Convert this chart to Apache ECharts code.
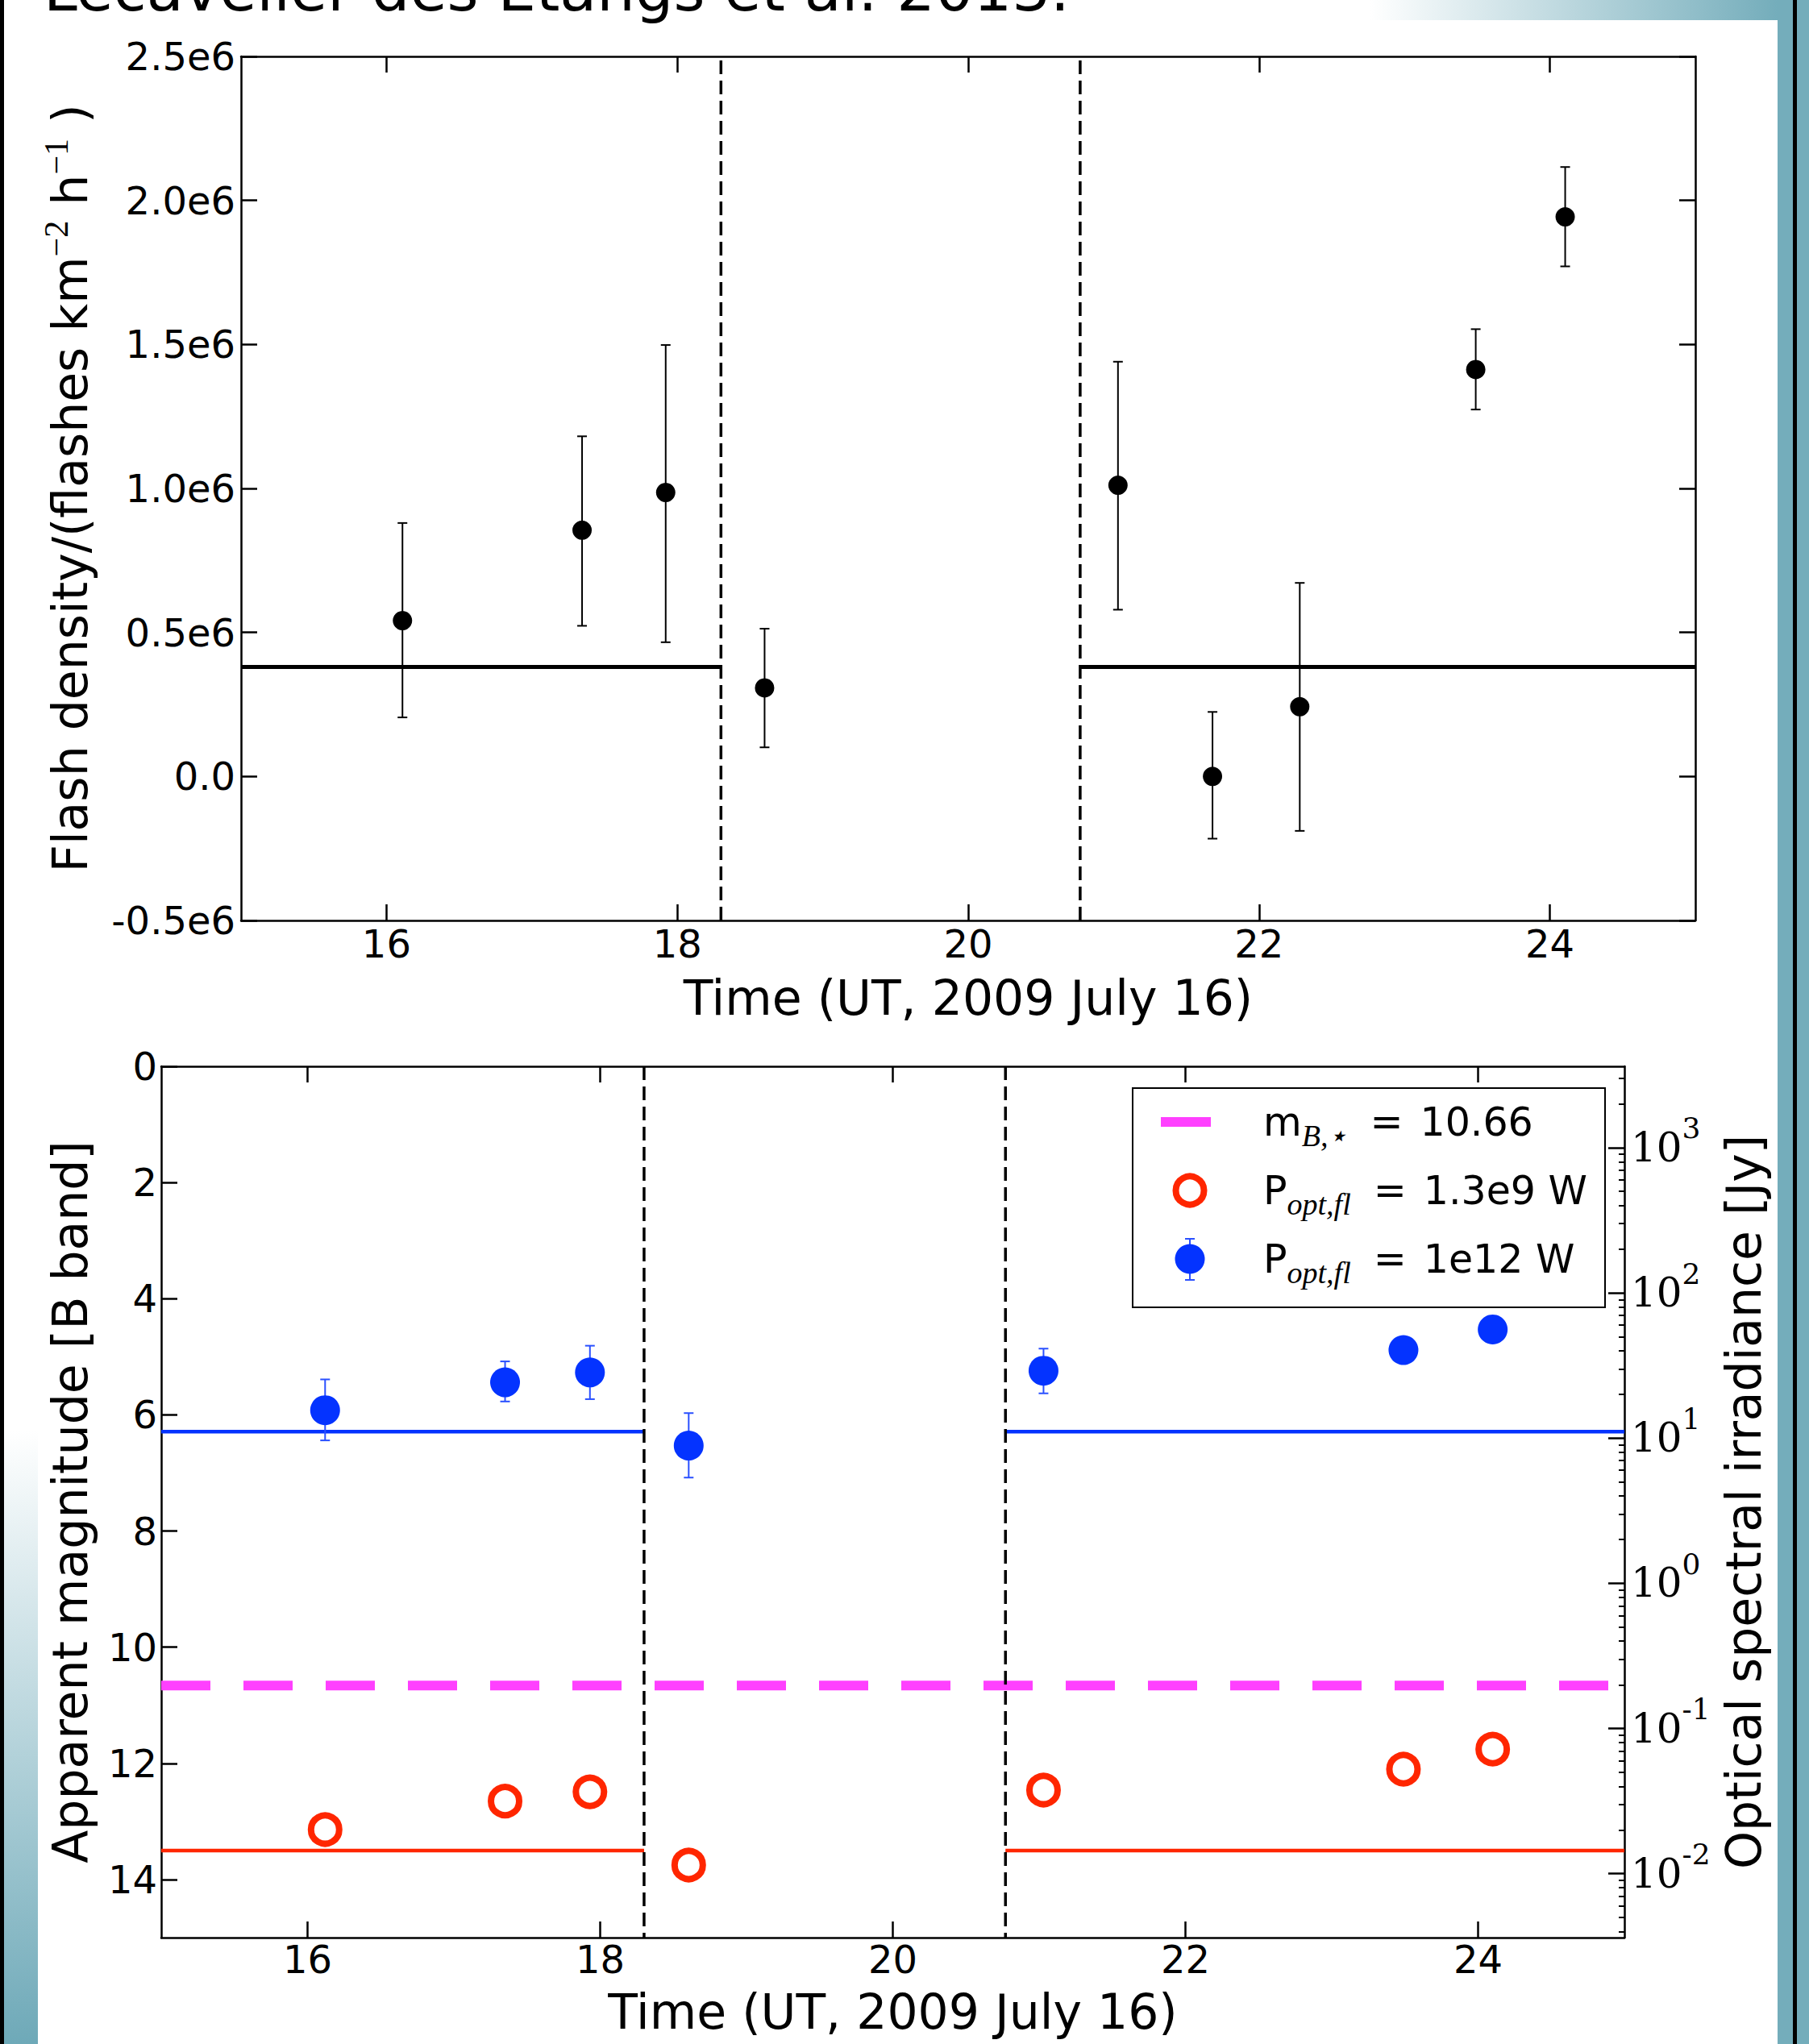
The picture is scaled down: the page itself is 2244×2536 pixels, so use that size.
<!DOCTYPE html>
<html>
<head>
<meta charset="utf-8">
<script src="https://cdn.jsdelivr.net/npm/echarts@6.0.0/dist/echarts.min.js"></script>
<style>
html,body{margin:0;padding:0;background:#fff;}
#c{width:2244px;height:2536px;}
</style>
</head>
<body>
<div id="c"></div>
<script>
// ---------------- data ----------------
const xMin = 15, xMax = 25;
const xTicks = [16, 18, 20, 22, 24];
const transitBounds = [18.30, 20.77];

// top panel: flash density
const densMin = -0.5e6, densMax = 2.5e6, densStep = 0.5e6;
const flashTime    = [16.11, 17.345, 17.92, 18.60, 21.03, 21.68, 22.28, 23.49, 24.105];
const flashDensity = [0.541e6, 0.855e6, 0.986e6, 0.3075e6, 1.011e6, 0.0, 0.242e6, 1.413e6, 1.943e6];
const flashLow     = [0.205e6, 0.523e6, 0.466e6, 0.101e6, 0.579e6, -0.216e6, -0.189e6, 1.274e6, 1.771e6];
const flashHigh    = [0.880e6, 1.181e6, 1.498e6, 0.513e6, 1.440e6, 0.224e6, 0.672e6, 1.553e6, 2.116e6];
const meanDensity  = 0.38e6;

// bottom panel: apparent magnitude
const magMin = 0, magMax = 15;
const magTicks = [0, 2, 4, 6, 8, 10, 12, 14];
const magTime   = [16.12, 17.35, 17.93, 18.605, 21.03, 23.49, 24.10];
const magBright = [5.92, 5.44, 5.27, 6.53, 5.24, 4.885, 4.53];      // P = 1e12 W
const magBrightUp   = [5.39, 5.08, 4.81, 5.97, 4.86, null, null];
const magBrightDown = [6.44, 5.77, 5.73, 7.08, 5.63, null, null];
const magFaint  = [13.14, 12.65, 12.49, 13.75, 12.46, 12.10, 11.755]; // P = 1.3e9 W
const levelBright = 6.29, levelFaint = 13.50, starMag = 10.66;

// right axis: optical spectral irradiance [Jy]
const fluxExponents = [3, 2, 1, 0, -1, -2];
const fluxZeroMag = 8.9;   // magnitude of 1 Jy on the right axis

// ---------------- styles ----------------
const BLACK = '#000', BLUE = '#0433ff', BLUE_ERR = '#2a50ff', RED = '#ff2600', MAGENTA = '#ff40ff', TEAL = '#74adbb';
const SANS = 'DejaVu Sans', SERIF = 'Liberation Serif', DSERIF = 'DejaVu Serif';

const fluxToMag = f => fluxZeroMag - 2.5 * Math.log10(f);
const fluxTickMags = fluxExponents.map(e => fluxToMag(Math.pow(10, e)));
const fluxMinorMags = [];
for (let e = -4; e <= 4; e++) {
  for (let k = 2; k <= 9; k++) {
    const m = fluxToMag(k * Math.pow(10, e));
    if (m >= magMin && m <= magMax) fluxMinorMags.push(m);
  }
}

function xAxis(grid, pos, showLabel, name, nameGap, margin) {
  return {
    type: 'value', gridIndex: grid, position: pos, min: xMin, max: xMax,
    axisLine: {show: true, onZero: false, lineStyle: {color: BLACK, width: 2.5}},
    axisTick: {show: true, inside: true, length: 20, customValues: xTicks, lineStyle: {color: BLACK, width: 2.5}},
    axisLabel: {show: showLabel, customValues: xTicks, margin: margin, color: BLACK, fontFamily: SANS, fontSize: 48},
    splitLine: {show: false},
    name: name, nameLocation: 'middle', nameGap: nameGap,
    nameTextStyle: {fontFamily: SANS, fontSize: 60, color: BLACK}
  };
}

function errRender(color, width, cap) {
  return function (params, api) {
    const x = api.value(0), lo = api.value(1), hi = api.value(2);
    const a = api.coord([x, lo]), b = api.coord([x, hi]);
    const st = {stroke: color, lineWidth: width};
    return {type: 'group', children: [
      {type: 'line', shape: {x1: a[0], y1: a[1], x2: b[0], y2: b[1]}, style: st},
      {type: 'line', shape: {x1: a[0] - cap, y1: a[1], x2: a[0] + cap, y2: a[1]}, style: st},
      {type: 'line', shape: {x1: b[0] - cap, y1: b[1], x2: b[0] + cap, y2: b[1]}, style: st}
    ]};
  };
}

const segs = [[xMin, transitBounds[0]], [transitBounds[1], xMax]];
function segmentSeries(xi, yi, level, color, width) {
  return segs.map(s => ({
    type: 'line', xAxisIndex: xi, yAxisIndex: yi, symbol: 'none', silent: true, z: 2,
    data: [[s[0], level], [s[1], level]],
    lineStyle: {color: color, width: width, type: 'solid'}
  }));
}
function verticalSeries(xi, yi, lo, hi) {
  return transitBounds.map(t => ({
    type: 'line', xAxisIndex: xi, yAxisIndex: yi, symbol: 'none', silent: true, z: 4,
    data: [[t, lo], [t, hi]],
    lineStyle: {color: BLACK, width: 3.5, type: [17, 8]}
  }));
}

const flashErrData = flashTime.map((t, i) => [t, flashLow[i], flashHigh[i]]);
const flashPts = flashTime.map((t, i) => [t, flashDensity[i]]);
const brightErrData = [];
magTime.forEach((t, i) => { if (magBrightUp[i] != null) brightErrData.push([t, magBrightUp[i], magBrightDown[i]]); });
const brightPts = magTime.map((t, i) => [t, magBright[i]]);
const faintPts = magTime.map((t, i) => [t, magFaint[i]]);

const series = [
  ...segmentSeries(0, 0, meanDensity, BLACK, 5),
  ...verticalSeries(0, 0, densMin, densMax),
  {type: 'custom', xAxisIndex: 0, yAxisIndex: 0, data: flashErrData, encode: {x: 0, y: [1, 2]},
   renderItem: errRender(BLACK, 2, 6), silent: true, z: 5},
  {type: 'scatter', xAxisIndex: 0, yAxisIndex: 0, data: flashPts, symbol: 'circle', symbolSize: 24,
   itemStyle: {color: BLACK, opacity: 1}, silent: true, z: 6},

  {type: 'line', xAxisIndex: 2, yAxisIndex: 2, symbol: 'none', silent: true, z: 3,
   data: [[xMin, starMag], [xMax, starMag]], lineStyle: {color: MAGENTA, width: 12, type: [61, 41]}},
  ...segmentSeries(2, 2, levelBright, BLUE, 4.5),
  ...segmentSeries(2, 2, levelFaint, RED, 4.5),
  ...verticalSeries(2, 2, magMin, magMax),
  {type: 'custom', xAxisIndex: 2, yAxisIndex: 2, data: brightErrData, encode: {x: 0, y: [1, 2]},
   renderItem: errRender(BLUE_ERR, 2, 6), silent: true, z: 5},
  {type: 'scatter', xAxisIndex: 2, yAxisIndex: 2, data: brightPts, symbol: 'circle', symbolSize: 37,
   itemStyle: {color: BLUE, opacity: 1}, silent: true, z: 6},
  {type: 'scatter', xAxisIndex: 2, yAxisIndex: 2, data: faintPts, symbol: 'circle', symbolSize: 35,
   itemStyle: {color: '#fff', borderColor: RED, borderWidth: 8, opacity: 1}, silent: true, z: 6}
];

const legendRich = {
  n: {fontFamily: SANS, fontSize: 49, lineHeight: 72, color: BLACK},
  eq: {fontFamily: SANS, fontSize: 49, lineHeight: 72, color: BLACK, padding: [0, 21, 0, 28]},
  sub: {fontFamily: SERIF, fontStyle: 'italic', fontSize: 38, lineHeight: 38, verticalAlign: 'bottom', color: BLACK}
};

const option = {
  animation: false,
  backgroundColor: '#fff',
  grid: [
    {left: 299, top: 70, width: 1804, height: 1072, outerBoundsMode: 'none', containLabel: false},
    {left: 200, top: 1323, width: 1815, height: 1081, outerBoundsMode: 'none', containLabel: false}
  ],
  xAxis: [
    xAxis(0, 'bottom', true, 'Time (UT, 2009 July 16)', 66, 5),
    xAxis(0, 'top', false, '', 0, 5),
    xAxis(1, 'bottom', true, 'Time (UT, 2009 July 16)', 62, 3),
    xAxis(1, 'top', false, '', 0, 3)
  ],
  yAxis: [
    {
      type: 'value', gridIndex: 0, position: 'left', min: densMin, max: densMax, interval: densStep,
      axisLine: {show: true, onZero: false, lineStyle: {color: BLACK, width: 2.5}},
      axisTick: {show: true, inside: true, length: 20, lineStyle: {color: BLACK, width: 2.5}},
      axisLabel: {margin: 7, color: BLACK, fontFamily: SANS, fontSize: 48,
        formatter: v => v === 0 ? '0.0' : (v / 1e6).toFixed(1) + 'e6'},
      splitLine: {show: false},
      name: '{n|Flash density/(flashes km}{s|\u22122}{n| h}{s|\u22121}{n| )}',
      nameLocation: 'middle', nameGap: 174,
      nameTextStyle: {rich: {
        n: {fontFamily: SANS, fontSize: 60, lineHeight: 76, color: BLACK},
        s: {fontFamily: SERIF, fontSize: 42, lineHeight: 42, verticalAlign: 'top', color: BLACK}
      }}
    },
    {
      type: 'value', gridIndex: 0, position: 'right', min: densMin, max: densMax, interval: densStep,
      axisLine: {show: true, onZero: false, lineStyle: {color: BLACK, width: 2.5}},
      axisTick: {show: true, inside: true, length: 20, lineStyle: {color: BLACK, width: 2.5}},
      axisLabel: {show: false}, splitLine: {show: false}
    },
    {
      type: 'value', gridIndex: 1, position: 'left', min: magMin, max: magMax, inverse: true,
      axisLine: {show: true, onZero: false, lineStyle: {color: BLACK, width: 2.5}},
      axisTick: {show: true, inside: true, length: 20, customValues: magTicks, lineStyle: {color: BLACK, width: 2.5}},
      axisLabel: {customValues: magTicks, margin: 5, color: BLACK, fontFamily: SANS, fontSize: 48},
      splitLine: {show: false},
      name: 'Apparent magnitude [B band]', nameLocation: 'middle', nameGap: 83,
      nameTextStyle: {fontFamily: SANS, fontSize: 60, color: BLACK}
    },
    {
      type: 'value', gridIndex: 1, position: 'right', min: magMin, max: magMax, inverse: true,
      axisLine: {show: true, onZero: false, lineStyle: {color: BLACK, width: 2.5}},
      axisTick: {show: true, inside: true, length: 20, customValues: fluxTickMags, lineStyle: {color: BLACK, width: 2.5}},
      axisLabel: {customValues: fluxTickMags, margin: 8, color: BLACK,
        formatter: v => {
          const e = Math.round((fluxZeroMag - v) / 2.5);
          return '{b|10}{s|' + String(e) + '}';
        },
        rich: {
          b: {fontFamily: DSERIF, fontSize: 50, lineHeight: 84, color: BLACK},
          s: {fontFamily: DSERIF, fontSize: 36, lineHeight: 36, verticalAlign: 'top', color: BLACK}
        }},
      splitLine: {show: false},
      name: 'Optical spectral irradiance [Jy]', nameLocation: 'middle', nameGap: 109, nameRotate: 90,
      nameTextStyle: {fontFamily: SANS, fontSize: 60, color: BLACK}
    },
    {
      type: 'value', gridIndex: 1, position: 'right', min: magMin, max: magMax, inverse: true,
      axisLine: {show: false, onZero: false},
      axisTick: {show: true, inside: true, length: 7, customValues: fluxMinorMags, lineStyle: {color: BLACK, width: 2}},
      axisLabel: {show: false}, splitLine: {show: false}
    }
  ],
  series: series,
  graphic: [
    {type: 'rect', z: -10, shape: {x: 0, y: 0, width: 5, height: 2536}, style: {fill: '#000'}},
    {type: 'rect', z: -10, shape: {x: 5, y: 1775, width: 42, height: 761},
     style: {fill: {type: 'linear', x: 0, y: 0, x2: 0, y2: 1, colorStops: [{offset: 0, color: '#ffffff'}, {offset: 1, color: '#6ea9b8'}]}}},
    {type: 'rect', z: -10, shape: {x: 1700, y: 0, width: 505, height: 25},
     style: {fill: {type: 'linear', x: 0, y: 0, x2: 1, y2: 0, colorStops: [{offset: 0, color: '#ffffff'}, {offset: 1, color: TEAL}]}}},
    {type: 'rect', z: -10, shape: {x: 2205, y: 0, width: 39, height: 2536}, style: {fill: TEAL}},
    {type: 'rect', z: -9, shape: {x: 2224, y: 0, width: 5, height: 2536}, style: {fill: '#000'}},
    {type: 'text', z: -5, x: 54, y: -13,
     style: {text: 'Lecavelier des Etangs et al. 2013.', fontFamily: SANS, fontSize: 75, fill: '#000', verticalAlign: 'middle'}},
    {type: 'group', z: 50, children: [
      {type: 'rect', z: 50, shape: {x: 1405, y: 1350, width: 586, height: 272}, style: {fill: '#fff', stroke: '#000', lineWidth: 2}},
      {type: 'line', z: 51, shape: {x1: 1440, y1: 1392, x2: 1502, y2: 1392}, style: {stroke: MAGENTA, lineWidth: 12}},
      {type: 'circle', z: 51, shape: {cx: 1476, cy: 1477, r: 17.5}, style: {fill: '#fff', stroke: RED, lineWidth: 8}},
      {type: 'line', z: 51, shape: {x1: 1476, y1: 1537, x2: 1476, y2: 1588}, style: {stroke: BLUE_ERR, lineWidth: 2}},
      {type: 'line', z: 51, shape: {x1: 1470, y1: 1537, x2: 1482, y2: 1537}, style: {stroke: BLUE_ERR, lineWidth: 2}},
      {type: 'line', z: 51, shape: {x1: 1470, y1: 1588, x2: 1482, y2: 1588}, style: {stroke: BLUE_ERR, lineWidth: 2}},
      {type: 'circle', z: 52, shape: {cx: 1476, cy: 1562, r: 18.5}, style: {fill: BLUE}},
      {type: 'text', z: 52, x: 1567, y: 1392, style: {text: '{n|m}{sub|B,\u22c6}{eq|=}{n|10.66}', verticalAlign: 'middle', rich: legendRich}},
      {type: 'text', z: 52, x: 1567, y: 1477, style: {text: '{n|P}{sub|opt,fl}{eq|=}{n|1.3e9 W}', verticalAlign: 'middle', rich: legendRich}},
      {type: 'text', z: 52, x: 1567, y: 1562, style: {text: '{n|P}{sub|opt,fl}{eq|=}{n|1e12 W}', verticalAlign: 'middle', rich: legendRich}}
    ]}
  ]
};

const chart = echarts.init(document.getElementById('c'), null, {renderer: 'svg', width: 2244, height: 2536});
chart.setOption(option);
</script>
</body>
</html>
